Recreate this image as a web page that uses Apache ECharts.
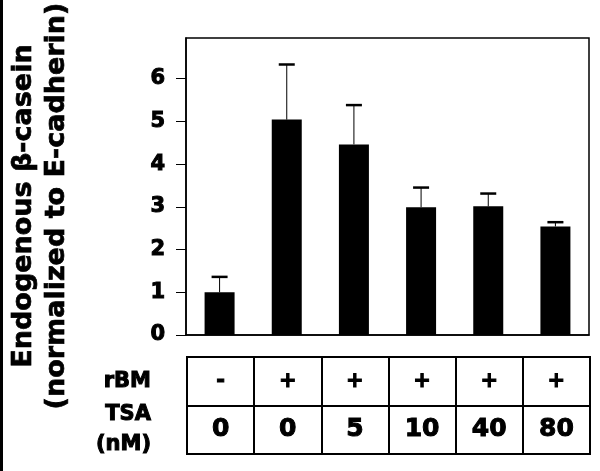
<!DOCTYPE html>
<html>
<head>
<meta charset="utf-8">
<script src="https://cdn.jsdelivr.net/npm/echarts@6/dist/echarts.min.js"></script>
<style>
  html, body { margin: 0; padding: 0; background: #fff; }
  #main { width: 600px; height: 471px; }
</style>
</head>
<body>
<div id="main"></div>
<script>
// conditions (one per bar)
const categories = ['ctrl', 'rBM', 'rBM+TSA5', 'rBM+TSA10', 'rBM+TSA40', 'rBM+TSA80'];
// table rows under the bars
const rowNames = ['rBM', 'TSA\n(nM)'];
const rbmRow = ['-', '+', '+', '+', '+', '+'];
const tsaRow = ['0', '0', '5', '10', '40', '80'];
// endogenous beta-casein, normalized to E-cadherin
const means = [1.0, 5.04, 4.46, 2.99, 3.01, 2.54];
const errs = [0.36, 1.29, 0.92, 0.46, 0.30, 0.10];
const yTitle = 'Endogenous \u03b2-casein\n(normalized to E-cadherin)';

const fam = 'DejaVu Sans';
const chart = echarts.init(document.getElementById('main'));

const errData = means.map((m, i) => [i, m, m + errs[i]]);
const cellData = [];
categories.forEach((c, i) => {
  cellData.push([i, 0]);
  cellData.push([i, 1]);
});

// heavy look like the original print
const heavy = { textBorderColor: '#000', textBorderWidth: 1 };

let option = {
  backgroundColor: '#fff',
  animation: false,
  grid: [
    { left: 186, width: 403, top: 38, height: 297, show: true, borderColor: '#000', borderWidth: 1.5 },
    { left: 187, width: 403, top: 357, height: 97, show: true, borderColor: '#000', borderWidth: 2 }
  ],
  xAxis: [
    {
      type: 'category', gridIndex: 0, data: categories,
      axisLine: { lineStyle: { color: '#000', width: 1.5 } },
      axisTick: { length: 9, lineStyle: { color: '#000' } },
      axisLabel: { show: false }
    },
    {
      type: 'category', gridIndex: 1, data: categories,
      axisLine: { show: false },
      axisTick: { show: false },
      axisLabel: { show: false },
      splitLine: { show: true, interval: 0, lineStyle: { color: '#000', width: 2 } }
    }
  ],
  yAxis: [
    {
      type: 'value', gridIndex: 0, min: 0, max: 6.95, interval: 1,
      axisLine: { show: true, lineStyle: { color: '#000', width: 1.5 } },
      axisTick: { show: true, length: 10, lineStyle: { color: '#000' } },
      splitLine: { show: false },
      axisLabel: Object.assign({
        margin: 21, color: '#000', fontFamily: fam, fontWeight: 'bold', fontSize: 21,
        showMaxLabel: false,
        formatter: v => (v % 1 === 0 ? String(v) : '')
      }, heavy)
    },
    {
      type: 'category', gridIndex: 1, inverse: true,
      data: [
        { value: rowNames[0], textStyle: { padding: [6, 0, 0, 0] } },
        { value: rowNames[1], textStyle: { padding: [10, 0, 0, 0] } }
      ],
      axisLine: { show: false },
      axisTick: { show: false },
      splitLine: { show: true, interval: 0, lineStyle: { color: '#000', width: 2 } },
      axisLabel: Object.assign({
        interval: 0, margin: 36, color: '#000', fontFamily: fam, fontWeight: 'bold',
        fontSize: 21, lineHeight: 30, align: 'right'
      }, heavy)
    }
  ],
  graphic: [
    { type: 'rect', shape: { x: 0, y: 0, width: 3, height: 471 }, style: { fill: '#000' } },
    {
      type: 'text', x: 40, y: 206, rotation: Math.PI / 2,
      style: {
        text: yTitle, fill: '#000', fontFamily: fam, fontWeight: 'bold', fontSize: 27,
        lineHeight: 33, align: 'center', verticalAlign: 'middle',
        stroke: '#000', lineWidth: 0.7
      }
    }
  ],
  series: [
    {
      type: 'bar', xAxisIndex: 0, yAxisIndex: 0, data: means,
      barWidth: 30, itemStyle: { color: '#000' }
    },
    {
      type: 'custom', xAxisIndex: 0, yAxisIndex: 0, data: errData,
      renderItem: function (params, api) {
        const base = api.coord([api.value(0), api.value(1)]);
        const top = api.coord([api.value(0), api.value(2)]);
        return {
          type: 'group',
          children: [
            { type: 'line', shape: { x1: base[0], y1: base[1], x2: top[0], y2: top[1] },
              style: { stroke: '#000', lineWidth: 1 } },
            { type: 'line', shape: { x1: top[0] - 8, y1: top[1], x2: top[0] + 8, y2: top[1] },
              style: { stroke: '#000', lineWidth: 2.5 } }
          ]
        };
      }
    },
    {
      type: 'custom', xAxisIndex: 1, yAxisIndex: 1, data: cellData,
      renderItem: function (params, api) {
        const col = api.value(0), row = api.value(1);
        const p = api.coord([col, row]);
        const txt = row === 0 ? rbmRow[col] : tsaRow[col];
        return {
          type: 'text', x: p[0], y: p[1],
          style: {
            text: txt, fill: '#000', fontFamily: fam, fontWeight: 'bold',
            fontSize: row === 0 ? 21 : 25,
            align: 'center', verticalAlign: 'middle',
            stroke: '#000', lineWidth: 1
          }
        };
      }
    }
  ]
};

chart.setOption(option);
</script>
</body>
</html>
